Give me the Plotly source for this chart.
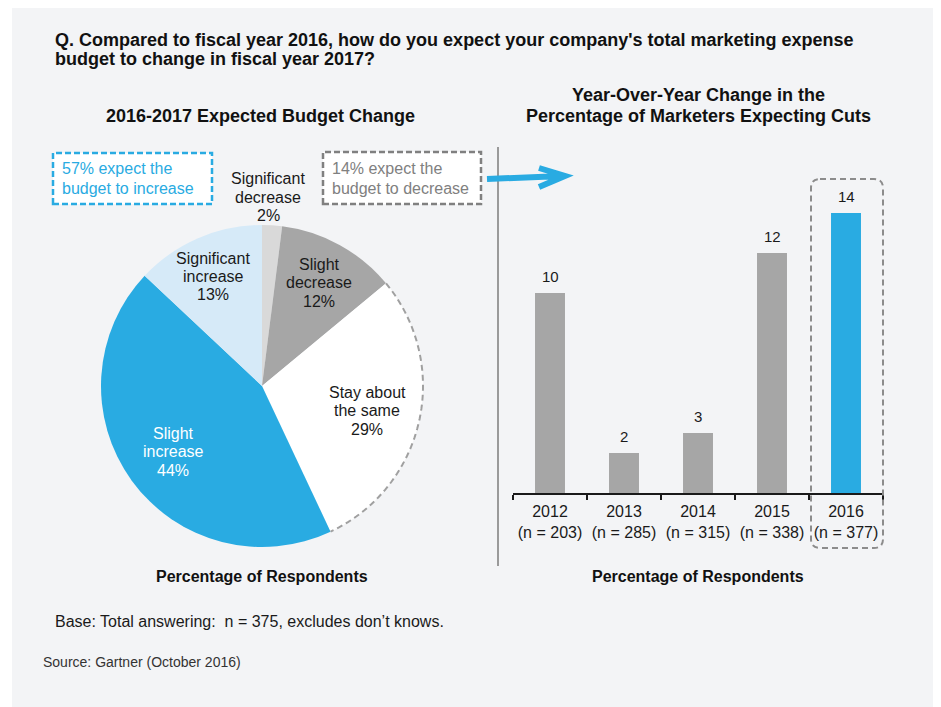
import numpy as np
import plotly.graph_objects as go

# the page adds an 8px body margin, so the figure is shifted by it
OFF = 8
W, H = 941 - 2 * OFF, 707 - OFF
FONT = "Liberation Sans, Arial, sans-serif"

# pie data (clockwise from 12 o'clock)
pie_labels = ["Significant<br>decrease", "Slight<br>decrease", "Stay about<br>the same",
              "Slight<br>increase", "Significant<br>increase"]
pie_values = [2, 12, 29, 44, 13]
pie_colors = ["#d9d9d9", "#a6a6a6", "#ffffff", "#29abe2", "#d6eaf8"]

# bar data
years = ["2012", "2013", "2014", "2015", "2016"]
sample_n = [203, 285, 315, 338, 377]
cut_pct = [10, 2, 3, 12, 14]
bar_colors = ["#a6a6a6", "#a6a6a6", "#a6a6a6", "#a6a6a6", "#29abe2"]


def px(x):
    return (x - OFF) / W


def py(y):
    return 1 - (y - OFF) / H


def add_lines(fig, x, ys, lines, size=16, color="#1a1a1a", bold=False, anchor="center"):
    # one annotation per line so the line spacing can be matched
    for y, line in zip(ys, lines):
        txt = f"<b>{line}</b>" if bold else line
        fig.add_annotation(x=px(x), y=py(y), xref="paper", yref="paper", text=txt,
                           showarrow=False, xanchor=anchor, yanchor="middle",
                           font=dict(family=FONT, size=size, color=color))


fig = go.Figure()

# background panel
fig.add_shape(type="rect", xref="paper", yref="paper", x0=px(12), x1=px(935), y0=-0.02, y1=1.02,
              fillcolor="#f3f4f6", line_width=0, layer="below")

# ---- pie ----
cx, cy, r = 262, 386, 161
fig.add_trace(go.Pie(
    labels=[l.replace("<br>", " ") for l in pie_labels],
    values=pie_values,
    marker=dict(colors=pie_colors, line=dict(width=0)),
    sort=False, direction="clockwise", rotation=0,
    textinfo="none", hoverinfo="label+percent",
    domain=dict(x=[px(cx - r), px(cx + r)], y=[py(cy + r), py(cy - r)]),
    showlegend=False,
))

# dashed outline on the "stay about the same" arc (angles from the cumulative shares)
cum = np.cumsum([0] + pie_values)
i_same = 2
ang = np.radians(np.linspace(cum[i_same], cum[i_same + 1], 60) / cum[-1] * 360)
arc_x = cx + r * np.sin(ang)
arc_y = cy - r * np.cos(ang)
arc = "M " + " L ".join(f"{px(a)},{py(b)}" for a, b in zip(arc_x, arc_y))
fig.add_shape(type="path", xref="paper", yref="paper", path=arc,
              line=dict(color="#a0a0a0", width=2, dash="6px,4px"))

# pie labels
label_pos = [
    (268, [178, 197, 215], "#1a1a1a"),
    (319, [264, 282, 301], "#1a1a1a"),
    (367, [392, 410, 429], "#1a1a1a"),
    (173, [433, 451, 470], "#ffffff"),
    (213, [258, 276, 295], "#1a1a1a"),
]
for lab, val, (x, ys, col) in zip(pie_labels, pie_values, label_pos):
    add_lines(fig, x, ys, lab.split("<br>") + [f"{val}%"], size=16, color=col)

# ---- bars ----
cats = [f"{y}<br>(n = {n})" for y, n in zip(years, sample_n)]
fig.add_trace(go.Bar(
    x=cats, y=cut_pct, marker=dict(color=bar_colors, line=dict(width=0)),
    showlegend=False, hoverinfo="y",
))
for c, v in zip(cats, cut_pct):
    fig.add_annotation(x=c, y=v, xref="x", yref="y", text=str(v), showarrow=False,
                       yanchor="bottom", yshift=6,
                       font=dict(family=FONT, size=15, color="#1a1a1a"))

fig.update_layout(
    xaxis=dict(domain=[px(513), px(883)], type="category", range=[-0.5, 4.5],
               showline=True, linecolor="#1a1a1a", linewidth=2, ticks="outside",
               tickson="boundaries", ticklen=5, tickwidth=2, tickcolor="#1a1a1a",
               tickfont=dict(family=FONT, size=16, color="#1a1a1a"), tickangle=0,
               ticklabelstandoff=3,
               showgrid=False, zeroline=False, fixedrange=True, automargin=False),
    yaxis=dict(domain=[py(493), py(193)], range=[0, 15], visible=False, fixedrange=True,
               automargin=False),
    bargap=0.595,
)

# ---- decorations ----
# divider
fig.add_shape(type="line", xref="paper", yref="paper", x0=px(498), x1=px(498),
              y0=py(147), y1=py(566), line=dict(color="#9a9a9a", width=2))

# rounded dashed box around 2016
x0, x1, y0, y1, rr = 811, 883, 179, 548, 9
path = (f"M {px(x0 + rr)},{py(y0)} L {px(x1 - rr)},{py(y0)} "
        f"Q {px(x1)},{py(y0)} {px(x1)},{py(y0 + rr)} L {px(x1)},{py(y1 - rr)} "
        f"Q {px(x1)},{py(y1)} {px(x1 - rr)},{py(y1)} L {px(x0 + rr)},{py(y1)} "
        f"Q {px(x0)},{py(y1)} {px(x0)},{py(y1 - rr)} L {px(x0)},{py(y0 + rr)} "
        f"Q {px(x0)},{py(y0)} {px(x0 + rr)},{py(y0)} Z")
fig.add_shape(type="path", xref="paper", yref="paper", path=path,
              line=dict(color="#8c8c8c", width=2, dash="6px,4px"))

# callout boxes
fig.add_shape(type="rect", xref="paper", yref="paper", x0=px(53), x1=px(212), y0=py(204), y1=py(153),
              fillcolor="#ffffff", line=dict(color="#29abe2", width=2.5, dash="6px,3px"))
fig.add_shape(type="rect", xref="paper", yref="paper", x0=px(323), x1=px(481), y0=py(204), y1=py(152),
              fillcolor="#ffffff", line=dict(color="#808080", width=2.5, dash="6px,3px"))
add_lines(fig, 60, [168, 188], ["57% expect the", "budget to increase"], 16, "#29abe2", anchor="left")
add_lines(fig, 330, [168, 188], ["14% expect the", "budget to decrease"], 16, "#808080", anchor="left")

# arrow
arrow = (f"M {px(487)},{py(179)} L {px(562)},{py(176)} "
         f"M {px(539)},{py(168)} L {px(565)},{py(176)} L {px(539)},{py(187)}")
fig.add_shape(type="path", xref="paper", yref="paper", path=arrow,
              line=dict(color="#29abe2", width=6))

# titles and notes
add_lines(fig, 53, [40, 59], ["Q. Compared to fiscal year 2016, how do you expect your company's total marketing expense",
                              "budget to change in fiscal year 2017?"], 18, "#111111", bold=True, anchor="left")
add_lines(fig, 261, [116], ["2016-2017 Expected Budget Change"], 18, "#111111", bold=True)
add_lines(fig, 698, [95, 116], ["Year-Over-Year Change in the", "Percentage of Marketers Expecting Cuts"],
          18, "#111111", bold=True)
add_lines(fig, 262, [576], ["Percentage of Respondents"], 16, "#111111", bold=True)
add_lines(fig, 698, [576], ["Percentage of Respondents"], 16, "#111111", bold=True)
add_lines(fig, 53, [621], ["Base: Total answering:\u00a0 n = 375, excludes don\u2019t knows."], 16, "#1a1a1a",
          anchor="left")
add_lines(fig, 41, [662], ["Source: Gartner (October 2016)"], 14, "#333333", anchor="left")

fig.update_layout(
    width=W, height=H,
    margin=dict(l=0, r=0, t=0, b=0, autoexpand=False),
    paper_bgcolor="#ffffff", plot_bgcolor="rgba(0,0,0,0)",
    font=dict(family=FONT, color="#1a1a1a"),
)

fig.write_html("out.html")
